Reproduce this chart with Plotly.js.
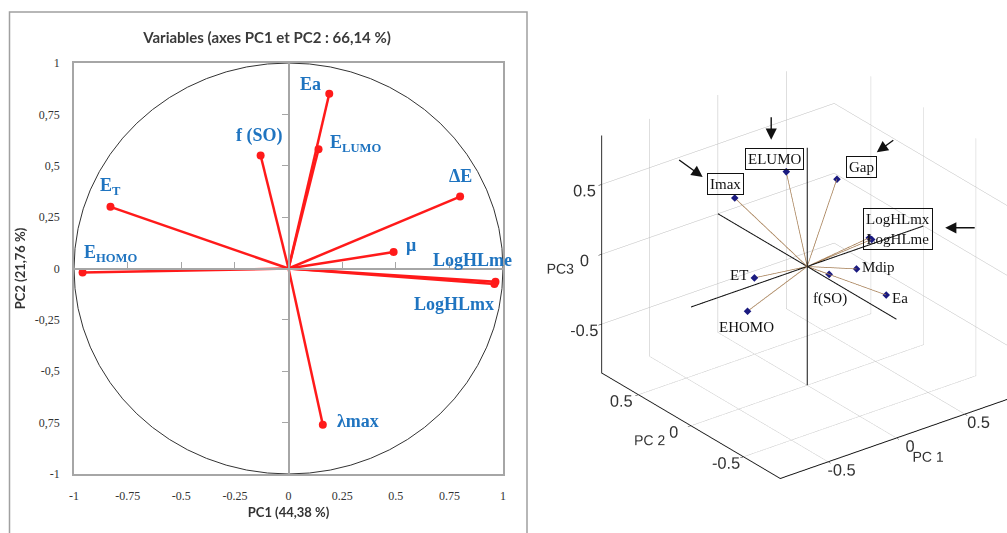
<!DOCTYPE html>
<html><head><meta charset="utf-8">
<script src="https://cdn.plot.ly/plotly-3.0.1.min.js"></script>
<style>html,body{margin:0;padding:0;background:#fff}#chart{width:1007px;height:533px}</style>
</head><body><div id="chart"></div>
<script>
// ---------- Left panel: correlation circle (PC1 x PC2) ----------
const varLabels2D = ['Ea','E<sub>LUMO</sub>','f (SO)','E<sub>T</sub>','E<sub>HOMO</sub>','ΔE','μ','LogHLme','LogHLmx','λmax'];
const pc1 = [0.19, 0.14, -0.13, -0.83, -0.96, 0.80, 0.49, 0.965, 0.96, 0.16];
const pc2 = [0.85, 0.58, 0.55, 0.30, -0.02, 0.35, 0.08, -0.065, -0.075, -0.76];
const tickVals2D = [-1, -0.75, -0.5, -0.25, 0, 0.25, 0.5, 0.75, 1];
const xTickText = ['-1', '-0.75', '-0.5', '-0.25', '0', '0.25', '0.5', '0.75', '1'];
const yTickText = ['-1', '0,75', '-0,5', '-0,25', '0', '0,25', '0,5', '0,75', '1'];
const innerTicks2D = [-0.75, -0.5, -0.25, 0.25, 0.5, 0.75];

// ---------- Right panel: 3D loadings (PC1, PC2, PC3) ----------
const varLabels3D = ['Imax', 'ELUMO', 'Gap', 'LogHLmx', 'LogHLme', 'Mdip', 'Ea', 'f(SO)', 'ET', 'EHOMO'];
const pc1_3d = [-0.30, 0.00, 0.37, 0.53, 0.54, 0.36, 0.50, 0.16, -0.31, -0.59];
const pc2_3d = [0.30, 0.20, 0.20, 0.10, 0.09, 0.00, -0.10, 0.00, 0.10, -0.20];
const pc3_3d = [0.46, 0.59, 0.41, -0.02, -0.03, -0.14, -0.33, -0.11, -0.02, -0.03];
const tickVals3D = [-0.5, 0, 0.5];
const tickText3D = ['-0.5', '0', '0.5'];
const axisRange3D = [-0.85, 0.85];
const axisHalf3D = 0.85;

// ---------- styling (pixel offsets, not data) ----------
const W = 1007, H = 533;
const px = v => v / W, py = v => 1 - v / H;
const labelShift2D = [[-19,10],[37,6],[-1,20],[0,20],[28,19],[0,21],[17,7],[-23,22],[-40,-20],[35,4]];
const labelGroups3D = [[[0],-9,14,true],[[1],-12,13,true],[[2],25,12,true],[[3,4],29,9,true],
  [[5],22,2,false],[[6],14,-3,false],[[7],1,-24,false],[[8],-15,3,false],[[9],-1,-16,false]];
const arrows3D = [[0,-32,21,-25,-18],[1,-15,32,0,-24],[2,40,27,18,-13],[3,76,10,31,0]];

const blue = '#1f74c0', red = '#ff1a1a', gray = '#a6a6a6';
const xd = [px(74), px(503)], yd = [py(474), py(63)];

const traces = [];
const lx = [], ly = [];
pc1.forEach((v, i) => { lx.push(0, v, null); ly.push(0, pc2[i], null); });
traces.push({type:'scatter', mode:'lines', x:lx, y:ly, line:{color:red, width:2.5}, hoverinfo:'skip', showlegend:false});
traces.push({type:'scatter', mode:'markers', x:pc1, y:pc2, marker:{color:red, size:8}, hoverinfo:'skip', showlegend:false});
traces.push({type:'scatter', x:[], y:[], xaxis:'x2', yaxis:'y2', hoverinfo:'skip', showlegend:false});

traces.push({type:'scatter3d', mode:'lines', scene:'scene',
  x:[-axisHalf3D, axisHalf3D, null, 0, 0, null, 0, 0],
  y:[0, 0, null, -axisHalf3D, axisHalf3D, null, 0, 0],
  z:[0, 0, null, 0, 0, null, -axisHalf3D, axisHalf3D],
  line:{color:'#111', width:2}, hoverinfo:'skip', showlegend:false});
const vx = [], vy = [], vz = [];
pc1_3d.forEach((v, i) => { vx.push(0, v, null); vy.push(0, pc2_3d[i], null); vz.push(0, pc3_3d[i], null); });
traces.push({type:'scatter3d', mode:'lines', scene:'scene', x:vx, y:vy, z:vz,
  line:{color:'#a47c52', width:1.5}, hoverinfo:'skip', showlegend:false});
traces.push({type:'scatter3d', mode:'markers', scene:'scene', x:pc1_3d, y:pc2_3d, z:pc3_3d,
  marker:{color:'#1a1a80', size:2.5, symbol:'diamond'}, hoverinfo:'skip', showlegend:false});

const ann = varLabels2D.map((t, i) => ({
  x: pc1[i], y: pc2[i], xref:'x', yref:'y', text:'<b>' + t + '</b>', showarrow:false,
  xshift: labelShift2D[i][0], yshift: labelShift2D[i][1],
  font:{family:'Liberation Serif', size:18, color:blue}
}));

const sceneAnn = [];
labelGroups3D.forEach(g => {
  const i = g[0][0];
  sceneAnn.push({x:pc1_3d[i], y:pc2_3d[i], z:pc3_3d[i], text:g[0].map(k => varLabels3D[k]).join('<br>'),
    showarrow:false, xshift:g[1], yshift:g[2],
    font:{family:'Liberation Serif', size:15, color:'#111'},
    bordercolor: g[3] ? '#111' : 'rgba(0,0,0,0)', borderwidth: g[3] ? 1 : 0, borderpad: 2});
});
arrows3D.forEach(a => {
  const i = a[0];
  sceneAnn.push({x:pc1_3d[i], y:pc2_3d[i], z:pc3_3d[i], text:'', showarrow:true,
    xshift:a[1], yshift:a[2], ax:a[3], ay:a[4], arrowhead:2, arrowsize:1.6, arrowwidth:1.4, arrowcolor:'#111'});
});

const axis3D = (t) => ({
  range: axisRange3D, tickvals: tickVals3D, ticktext: tickText3D, tickangle: 0,
  title:{text:t, font:{family:'Liberation Sans', size:14, color:'#333'}},
  tickfont:{family:'Liberation Sans', size:14, color:'#333'},
  showgrid:true, gridcolor:'#bdbdbd', gridwidth:1, zeroline:false,
  showline:true, linecolor:'#111', linewidth:2, showbackground:false, showspikes:false,
  ticks:'outside', ticklen:4, tickcolor:'#111'
});

const k = 1.9;
const shiftC = 0.119;
const cx = -shiftC * 0.793, cy = shiftC * 0.609;
const layout = {
  width: W, height: H, margin:{l:0, r:0, t:0, b:0},
  paper_bgcolor:'#fff', plot_bgcolor:'#fff', showlegend:false, hovermode:false,
  title:{text:'<b>Variables (axes PC1 et PC2 : 66,14 %)</b>', x:px(267), xanchor:'center', y:py(38), yanchor:'middle',
    xref:'paper', yref:'paper', font:{family:'Lato', size:15, color:'#3a3a3a'}},
  xaxis:{domain:xd, range:[-1,1], tickvals:tickVals2D, ticktext:xTickText, showgrid:false, zeroline:false,
    showline:true, mirror:true, linecolor:gray, linewidth:1.5, ticks:'', ticklabelstandoff:10,
    tickfont:{family:'Liberation Serif', size:12, color:'#333'},
    title:{text:'<b>PC1 (44,38 %)</b>', font:{family:'Lato', size:13, color:'#333'}, standoff:6}, fixedrange:true},
  yaxis:{domain:yd, range:[-1,1], tickvals:tickVals2D, ticktext:yTickText, showgrid:false, zeroline:false,
    showline:true, mirror:true, linecolor:gray, linewidth:1.5, ticks:'', ticklabelstandoff:10,
    tickfont:{family:'Liberation Serif', size:12, color:'#333'},
    title:{text:'<b>PC2 (21,76 %)</b>', font:{family:'Lato', size:13, color:'#333'}, standoff:6}, fixedrange:true},
  xaxis2:{overlaying:'x', anchor:'free', position:(yd[0]+yd[1])/2, range:[-1,1], tickvals:innerTicks2D,
    showticklabels:false, ticks:'inside', ticklen:6, tickcolor:gray, tickwidth:1,
    showline:true, linecolor:gray, linewidth:1.5, showgrid:false, zeroline:false, fixedrange:true},
  yaxis2:{overlaying:'y', anchor:'free', position:(xd[0]+xd[1])/2, side:'left', range:[-1,1], tickvals:innerTicks2D,
    showticklabels:false, ticks:'outside', ticklen:6, tickcolor:gray, tickwidth:1,
    showline:true, linecolor:gray, linewidth:1.5, showgrid:false, zeroline:false, fixedrange:true},
  shapes:[
    {type:'circle', xref:'x', yref:'y', x0:-1, x1:1, y0:-1, y1:1, line:{color:'#333', width:1}, layer:'below'},
    {type:'rect', xref:'paper', yref:'paper', x0:px(9.5), x1:px(527), y0:-0.05, y1:py(12), line:{color:'#a0a0a0', width:1.5}}
  ],
  annotations: ann,
  scene:{
    domain:{x:[px(544), 1], y:[0, 1]},
    xaxis: axis3D('PC 1'), yaxis: axis3D('PC 2'), zaxis: axis3D('PC3'),
    aspectmode:'manual', aspectratio:{x:1.1, y:1.1, z:1},
    camera:{eye:{x:-0.543*k + cx, y:-0.707*k + cy, z:0.454*k}, up:{x:0, y:0, z:1}, center:{x:cx, y:cy, z:0},
      projection:{type:'orthographic'}},
    annotations: sceneAnn,
    bgcolor:'#fff'
  }
};

Plotly.newPlot('chart', traces, layout, {displayModeBar:false});
</script>
</body></html>
